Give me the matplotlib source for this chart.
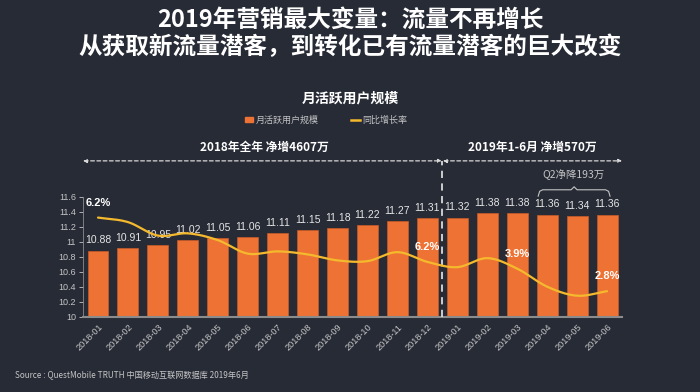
import matplotlib
matplotlib.use("Agg")
import matplotlib.pyplot as plt
import numpy as np

plt.rcParams['font.family'] = ['Noto Sans CJK SC', 'DejaVu Sans']

months = ['2018-01', '2018-02', '2018-03', '2018-04', '2018-05', '2018-06',
          '2018-07', '2018-08', '2018-09', '2018-10', '2018-11', '2018-12',
          '2019-01', '2019-02', '2019-03', '2019-04', '2019-05', '2019-06']
mau = [10.88, 10.91, 10.95, 11.02, 11.05, 11.06, 11.11, 11.15, 11.18,
       11.22, 11.27, 11.31, 11.32, 11.38, 11.38, 11.36, 11.34, 11.36]
# Growth-rate line, as drawn (position on a hidden secondary scale)
growth_line = [11.32, 11.26, 11.08, 11.11, 11.02, 10.84, 10.87, 10.83, 10.75,
               10.74, 10.86, 10.73, 10.66, 10.78, 10.64, 10.40, 10.28, 10.34]
growth_label_idx = [0, 11, 14, 17]
growth_labels = ['6.2%', '6.2%', '3.9%', '2.8%']
yticks = [10, 10.2, 10.4, 10.6, 10.8, 11, 11.2, 11.4, 11.6]
ytick_labels = ['10', '10.2', '10.4', '10.6', '10.8', '11', '11.2', '11.4', '11.6']

BG = '#272b36'
ORANGE = '#ee7234'
YELLOW = '#f4b92d'
GRAY = '#c4c4c4'
LIGHT = '#e6e6e6'
NUMFONT = ['Liberation Sans', 'DejaVu Sans']

fig = plt.figure(figsize=(7, 3.92), dpi=100, facecolor=BG)
ax = fig.add_axes([0.1186, 0.192, 0.7700, 0.3066])
ax.set_facecolor(BG)
x = np.arange(len(months))

ax.bar(x, [v - 10 for v in mau], bottom=10, width=0.7, color=ORANGE,
       edgecolor='#c85a28', linewidth=0.5, zorder=2)
for xi, v in zip(x, mau):
    ax.text(xi, v + 0.07, f'{v:.2f}', ha='center', va='bottom', fontsize=7.5,
            color=LIGHT, family=NUMFONT, zorder=3)

ax.set_xlim(-0.5, 17.5)
ax.set_ylim(10, 11.6)
ax.set_yticks(yticks)
ax.set_yticklabels(ytick_labels, family=NUMFONT)
ax.set_xticks(x)
ax.set_xticklabels(months, rotation=45, ha='right', rotation_mode='anchor',
                   family=NUMFONT)
ax.tick_params(axis='y', colors=GRAY, labelsize=6.5, length=3, width=0.6, pad=2)
ax.tick_params(axis='x', colors=GRAY, labelsize=6.6, length=0, pad=4)
for s in ['top', 'right']:
    ax.spines[s].set_visible(False)
ax.spines['left'].set_color('#8c8c8c')
ax.spines['left'].set_linewidth(0.6)
ax.spines['bottom'].set_color('#8c8c8c')
ax.spines['bottom'].set_linewidth(1.5)

# secondary hidden axis for growth line
ax2 = ax.twinx()
ax2.set_ylim(10, 11.6)
ax2.axis('off')


def catmull(xs, ys, n=20):
    xs = np.asarray(xs, float); ys = np.asarray(ys, float)
    px = np.concatenate([[2 * xs[0] - xs[1]], xs, [2 * xs[-1] - xs[-2]]])
    py = np.concatenate([[2 * ys[0] - ys[1]], ys, [2 * ys[-1] - ys[-2]]])
    ox, oy = [], []
    for i in range(1, len(px) - 2):
        t = np.linspace(0, 1, n, endpoint=False)
        for p, o in ((px, ox), (py, oy)):
            p0, p1, p2, p3 = p[i - 1], p[i], p[i + 1], p[i + 2]
            o.extend(0.5 * ((2 * p1) + (-p0 + p2) * t +
                            (2 * p0 - 5 * p1 + 4 * p2 - p3) * t ** 2 +
                            (-p0 + 3 * p1 - 3 * p2 + p3) * t ** 3))
    ox.append(xs[-1]); oy.append(ys[-1])
    return ox, oy

sx, sy = catmull(x, growth_line)
ax2.plot(sx, sy, color=YELLOW, lw=1.6, zorder=4, solid_capstyle='round')
for i, lab in zip(growth_label_idx, growth_labels):
    ax2.annotate(lab, (x[i], growth_line[i]), xytext=(0, 7), textcoords='offset points',
                 ha='center', va='bottom', fontsize=8, fontweight='bold', color='white',
                 family=NUMFONT, zorder=5)

# divider & arrows
ax2.plot([11.5, 11.5], [10, 12.07], ls=(0, (4, 3)), color='#d9d9d9', lw=1.3,
         clip_on=False, zorder=3)
ya = 12.075
for x0, x1 in [(-0.5, 11.48), (11.52, 17.5)]:
    ax2.annotate('', xy=(x1, ya), xytext=(x0, ya), xycoords='data',
                 arrowprops=dict(arrowstyle='<|-|>', color='#d9d9d9', lw=0.9,
                                 ls=(0, (3, 2)), mutation_scale=5,
                                 shrinkA=0, shrinkB=0), annotation_clip=False)
ax2.text(5.57, 12.26, '2018年全年 净增4607万', ha='center', va='center', fontsize=8.5,
         fontweight='bold', color='white', clip_on=False)
ax2.text(14.5, 12.26, '2019年1-6月 净增570万', ha='center', va='center', fontsize=8.5,
         fontweight='bold', color='white', clip_on=False)
ax2.text(15.87, 11.89, 'Q2净降193万', ha='center', va='center', fontsize=7.5,
         color=GRAY, clip_on=False)
# brace
bx = [14.7, 14.75, 14.85, 15.8, 15.9, 16.0, 16.95, 17.05, 17.1]
by = [11.605, 11.67, 11.69, 11.69, 11.73, 11.69, 11.69, 11.67, 11.605]
ax2.plot(bx, by, color=GRAY, lw=0.8, clip_on=False)

# titles
fig.text(0.5, 1 - 20 / 392, '2019年营销最大变量：流量不再增长', ha='center', va='center',
         fontsize=17, fontweight='bold', color='white')
fig.text(0.5, 1 - 47 / 392, '从获取新流量潜客，到转化已有流量潜客的巨大改变', ha='center',
         va='center', fontsize=17, fontweight='bold', color='white')
fig.text(0.5, 1 - 98 / 392, '月活跃用户规模', ha='center', va='center', fontsize=10,
         fontweight='bold', color='white')

# legend
from matplotlib.patches import Patch
from matplotlib.lines import Line2D
handles = [Patch(color=ORANGE, label='月活跃用户规模'),
           Line2D([0], [0], color=YELLOW, lw=1.8, label='同比增长率')]
leg = fig.legend(handles=handles, loc='center', bbox_to_anchor=(0.466, 1 - 120 / 392),
                 ncol=2, frameon=False, fontsize=6.5, handlelength=0.9, handleheight=0.6,
                 handletextpad=0.3, columnspacing=3.6)
for t in leg.get_texts():
    t.set_color(GRAY)

fig.text(15 / 700, 1 - 376 / 392, 'Source : QuestMobile TRUTH 中国移动互联网数据库 2019年6月',
         ha='left', va='center', fontsize=5.9, color=GRAY)

fig.savefig('out.png', dpi=100, facecolor=BG)
